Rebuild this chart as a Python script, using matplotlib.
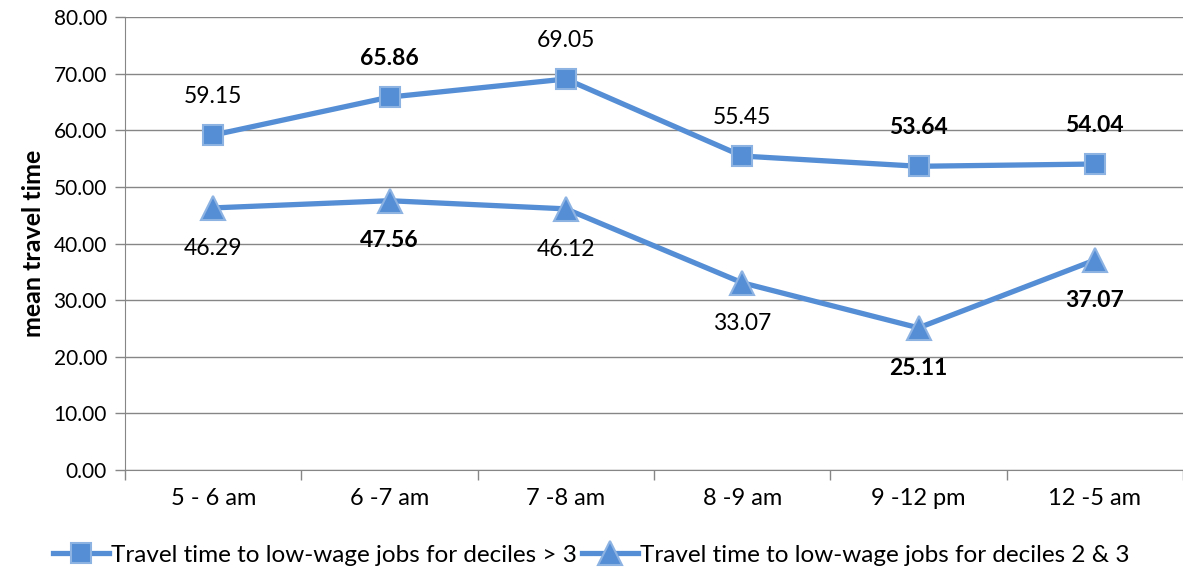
import numpy as np
import matplotlib.pyplot as plt

plt.rcParams['font.family'] = ['Lato', 'DejaVu Sans']

categories = ['5 - 6 am', '6 -7 am', '7 -8 am', '8 -9 am', '9 -12 pm', '12 -5 am']
high_deciles = [59.15, 65.86, 69.05, 55.45, 53.64, 54.04]
low_deciles = [46.29, 47.56, 46.12, 33.07, 25.11, 37.07]
high_bold = [False, True, False, False, True, True]
low_bold = [False, True, False, False, True, True]

blue = '#558ED5'
edge = '#8DB3E2'

fig = plt.figure(figsize=(11.83, 5.77), dpi=100)
ax = fig.add_axes([0.1057, 0.1854, 0.8943, 0.7851])
x = np.arange(len(categories))

ax.plot(x, high_deciles, color=blue, lw=3.8, marker='s', ms=15,
        mfc=blue, mec=edge, mew=1.5,
        label='Travel time to low-wage jobs for deciles > 3')
ax.plot(x, low_deciles, color=blue, lw=3.8, marker='^', ms=17,
        mfc=blue, mec=edge, mew=1.5,
        label='Travel time to low-wage jobs for deciles 2 & 3')

for xi, v, b in zip(x, high_deciles, high_bold):
    ax.annotate(f'{v:.2f}', (xi, v), xytext=(0, 28), textcoords='offset points',
                ha='center', va='center', fontsize=16.5,
                fontweight='bold' if b else 'normal')
for xi, v, b in zip(x, low_deciles, low_bold):
    ax.annotate(f'{v:.2f}', (xi, v), xytext=(0, -29), textcoords='offset points',
                ha='center', va='center', fontsize=16.5,
                fontweight='bold' if b else 'normal')

ax.set_xlim(-0.5, len(categories) - 0.5)
ax.set_ylim(0, 80)
ax.set_yticks(np.arange(0, 81, 10))
ax.set_yticklabels([f'{t:.2f}' for t in np.arange(0, 81, 10)], fontsize=15)
ax.set_xticks(x)
ax.set_xticklabels(categories, fontsize=17)
ax.set_xticks(np.arange(-0.5, len(categories)), minor=True)
ax.tick_params(axis='x', which='major', length=0, pad=13)
ax.tick_params(axis='x', which='minor', length=7, color='#868686', width=1)
ax.tick_params(axis='y', length=7, color='#868686', width=1, pad=6)
ax.set_ylabel('mean travel time', fontsize=18, fontweight='bold', labelpad=6)

ax.grid(axis='y', color='#868686', lw=1)
ax.set_axisbelow(True)
for s in ['top', 'right']:
    ax.spines[s].set_visible(False)
for s in ['left', 'bottom']:
    ax.spines[s].set_color('#868686')

fig.legend(loc='lower center', bbox_to_anchor=(0.5, -0.018), ncol=2, frameon=False,
           fontsize=17.5, handlelength=2.3, handletextpad=0.1, columnspacing=0.2)

fig.savefig('out.png', dpi=100)
